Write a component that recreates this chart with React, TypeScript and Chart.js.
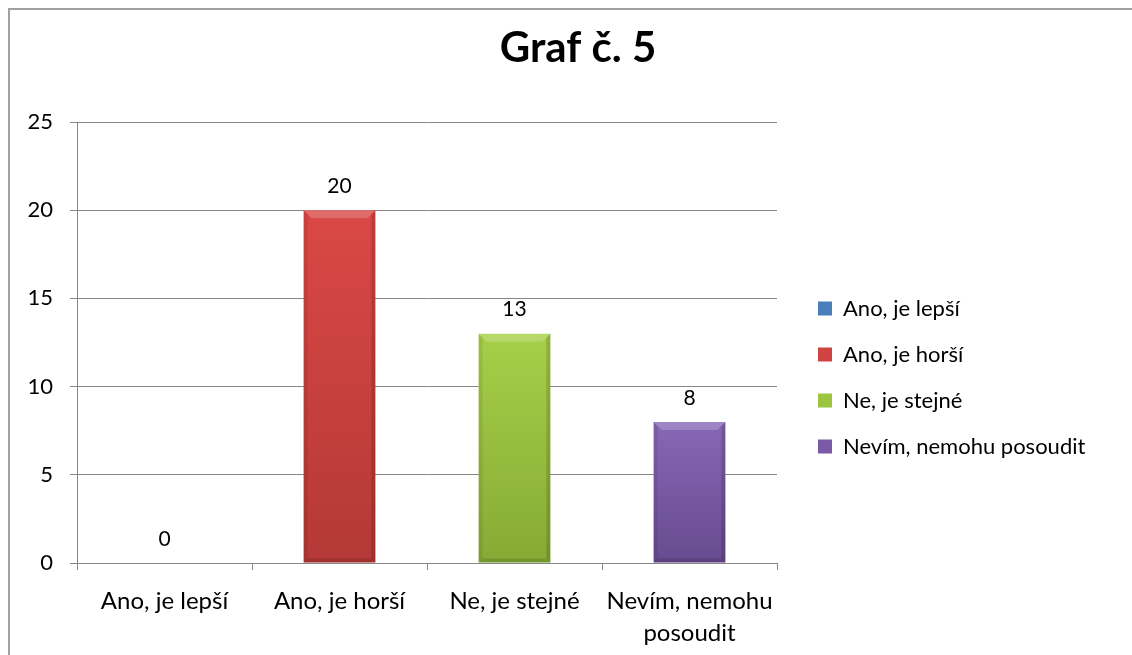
import React, { useEffect, useRef } from 'react';
import { Chart, registerables } from 'chart.js';

Chart.register(...registerables);

const chartTitle = 'Graf č. 5';
const categories: string[][] = [
  ['Ano, je lepší'],
  ['Ano, je horší'],
  ['Ne, je stejné'],
  ['Nevím, nemohu', 'posoudit'],
];
const legendLabels = ['Ano, je lepší', 'Ano, je horší', 'Ne, je stejné', 'Nevím, nemohu posoudit'];
const values = [0, 20, 13, 8];
const yMin = 0;
const yMax = 25;
const yStep = 5;

const flatColors = ['#4a7ebb', '#cf4340', '#9cc43f', '#7a5aa6'];
const topColors = ['#5a8fd0', '#da4845', '#a6cf48', '#8867b6'];
const bottomColors = ['#3b6aa5', '#b43936', '#86aa35', '#674b8f'];

const FONT = 'Lato, "Open Sans", sans-serif';
const W = 1136;
const H = 700;
const AREA_LEFT = 67;
const AREA_RIGHT = 767;
const AREA_BOTTOM = 553;
const LEGEND_LEFT = 784;
const LEGEND_FONT = 22;
const LEGEND_PAD = 24;
const LEGEND_BOX = 14;
const GRID = '#878787';

const barBevel = {
  id: 'barBevel',
  afterDatasetsDraw(chart: any) {
    const { ctx } = chart;
    const meta = chart.getDatasetMeta(0);
    ctx.save();
    meta.data.forEach((bar: any) => {
      const { x, y, base, width } = bar.getProps(['x', 'y', 'base', 'width'], true);
      const h = base - y;
      if (!(h > 2)) return;
      const l = x - width / 2;
      const r = x + width / 2;
      const b = Math.min(8, h / 2);
      ctx.fillStyle = 'rgba(255,255,255,0.2)';
      ctx.beginPath();
      ctx.moveTo(l, y);
      ctx.lineTo(r, y);
      ctx.lineTo(r - b, y + b);
      ctx.lineTo(l + b, y + b);
      ctx.closePath();
      ctx.fill();
      ctx.fillStyle = 'rgba(0,0,0,0.14)';
      ctx.beginPath();
      ctx.moveTo(r, y);
      ctx.lineTo(r, base);
      ctx.lineTo(r - 4, base - 4);
      ctx.lineTo(r - 4, y + 4);
      ctx.closePath();
      ctx.fill();
      ctx.fillStyle = 'rgba(0,0,0,0.08)';
      ctx.beginPath();
      ctx.moveTo(l, y);
      ctx.lineTo(l, base);
      ctx.lineTo(l + 4, base - 4);
      ctx.lineTo(l + 4, y + 4);
      ctx.closePath();
      ctx.fill();
      ctx.fillStyle = 'rgba(0,0,0,0.12)';
      ctx.beginPath();
      ctx.moveTo(l, base);
      ctx.lineTo(r, base);
      ctx.lineTo(r - 4, base - 4);
      ctx.lineTo(l + 4, base - 4);
      ctx.closePath();
      ctx.fill();
    });
    ctx.restore();
  },
};

const valueLabels = {
  id: 'valueLabels',
  afterDatasetsDraw(chart: any) {
    const { ctx } = chart;
    const meta = chart.getDatasetMeta(0);
    ctx.save();
    ctx.font = `21px ${FONT}`;
    ctx.fillStyle = '#000';
    ctx.textAlign = 'center';
    ctx.textBaseline = 'middle';
    meta.data.forEach((bar: any, i: number) => {
      ctx.fillText(String(values[i]), bar.x, bar.y - 24);
    });
    ctx.restore();
  },
};

export default function App() {
  const ref = useRef<HTMLCanvasElement>(null);

  useEffect(() => {
    const canvas = ref.current;
    if (!canvas) return;

    const chart = new Chart(canvas, {
      type: 'bar',
      data: {
        labels: categories,
        datasets: [
          {
            label: chartTitle,
            data: values,
            backgroundColor: (c: any) => {
              const i = c.dataIndex ?? 0;
              const ys = c.chart?.scales?.y;
              if (!ys || c.type !== 'data') return flatColors[i];
              const top = ys.getPixelForValue(values[i]);
              const bottom = ys.getPixelForValue(0);
              if (!(bottom > top)) return flatColors[i];
              const g = c.chart.ctx.createLinearGradient(0, top, 0, bottom);
              g.addColorStop(0, topColors[i]);
              g.addColorStop(1, bottomColors[i]);
              return g;
            },
            borderWidth: 0,
            barPercentage: 0.41,
            categoryPercentage: 1,
          },
        ],
      },
      options: {
        responsive: false,
        animation: false,
        devicePixelRatio: 1,
        layout: { padding: 0 },
        plugins: {
          tooltip: { enabled: false },
          title: {
            display: true,
            text: chartTitle,
            color: '#000',
            font: { family: FONT, size: 42, weight: 'bold', lineHeight: 1.2 },
            padding: { top: 13, bottom: 48.6 },
          },
          legend: {
            display: true,
            position: 'right',
            fullSize: false,
            align: 'center',
            maxWidth: 500,
            title: {
              display: true,
              text: ' ',
              font: { size: 10, lineHeight: 1 },
              padding: { top: 30, bottom: 30 },
            },
            labels: {
              color: '#000',
              font: { family: FONT, size: LEGEND_FONT },
              boxWidth: LEGEND_BOX,
              boxHeight: LEGEND_BOX,
              padding: LEGEND_PAD,
              generateLabels: () =>
                legendLabels.map((t, i) => ({
                  text: t,
                  fillStyle: flatColors[i],
                  strokeStyle: flatColors[i],
                  fontColor: '#000',
                  lineWidth: 0,
                  hidden: false,
                  index: i,
                  datasetIndex: 0,
                })),
            },
          },
        },
        scales: {
          x: {
            grid: {
              display: true,
              drawOnChartArea: false,
              drawTicks: true,
              tickLength: 7,
              color: GRID,
            },
            border: { display: true, color: GRID, width: 1 },
            ticks: {
              color: '#000',
              font: { family: FONT, size: 24, lineHeight: 1.3 },
              padding: 16,
              autoSkip: false,
              maxRotation: 0,
              minRotation: 0,
            },
            afterFit: (s: any) => {
              s.height = H - AREA_BOTTOM;
            },
          },
          y: {
            min: yMin,
            max: yMax,
            grid: { color: GRID, tickLength: 7, drawTicks: true },
            border: { display: true, color: GRID, width: 1 },
            ticks: {
              stepSize: yStep,
              color: '#000',
              font: { family: FONT, size: 22 },
              padding: 17,
            },
            afterFit: (s: any) => {
              s.width = AREA_LEFT;
            },
          },
          gap: {
            type: 'linear',
            position: 'right',
            display: true,
            weight: 0,
            grid: { display: false, drawTicks: false },
            border: { display: false },
            ticks: { display: false },
            afterFit: (s: any) => {
              s.width = LEGEND_LEFT - AREA_RIGHT;
            },
          },
          tail: {
            type: 'linear',
            position: 'right',
            display: true,
            weight: 2000,
            grid: { display: false, drawTicks: false },
            border: { display: false },
            ticks: { display: false },
            afterFit: (s: any) => {
              const lw = s.chart.legend ? s.chart.legend.width : 0;
              s.width = Math.max(0, W - LEGEND_LEFT - lw);
            },
          },
        },
      },
      plugins: [barBevel, valueLabels],
    } as any);

    return () => chart.destroy();
  }, []);

  return (
    <div
      style={{
        position: 'fixed',
        left: 0,
        top: 0,
        width: '100vw',
        height: '100vh',
        overflow: 'hidden',
        background: '#fff',
      }}
    >
      <div
        style={{
          position: 'absolute',
          left: 8,
          top: 8,
          width: W,
          height: H,
          borderTop: '2px solid #a0a0a0',
          borderLeft: '2px solid #a0a0a0',
        }}
      >
        <canvas ref={ref} width={W} height={H} style={{ display: 'block', width: W, height: H }} />
      </div>
    </div>
  );
}
